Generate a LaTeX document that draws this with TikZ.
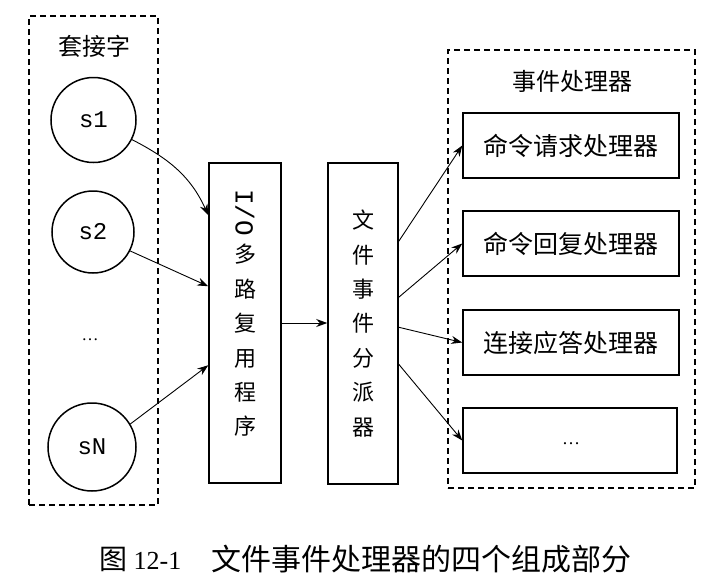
\documentclass[tikz,border=0pt]{standalone}
\usepackage{fontspec}
\setmainfont{Liberation Serif}
\setmonofont{Liberation Mono}
\newfontfamily\cjk{Noto Sans CJK SC}
\usetikzlibrary{arrows.meta,calc}
\begin{document}
\begin{tikzpicture}[x=1pt,y=-1pt,
  dbox/.style={draw, line width=1.6pt, dash pattern=on 6pt off 4pt, inner sep=0pt},
  sbox/.style={draw, line width=1.5pt, inner sep=0pt},
  sock/.style={circle, draw, line width=1.5pt, inner sep=0pt, font=\fontsize{24}{24}\selectfont\ttfamily},
  arr/.style={-{Stealth[length=11pt,width=8pt]}, line width=0.9pt},
  lab/.style={font=\fontsize{24}{24}\selectfont\cjk, inner sep=0pt},
  hbox/.style={sbox, minimum width=216pt, minimum height=65pt, font=\fontsize{25}{25}\selectfont\cjk},
  vtext/.style={font=\fontsize{22}{34.4}\selectfont\cjk, align=center, inner sep=0pt},
]
\useasboundingbox (0,0) rectangle (723,581);

% left group: sockets
\node[dbox, minimum width=129pt, minimum height=489pt] (sockets) at (93.5,260.5) {};
\node[lab] (socklab) at (94,46) {套接字};
\node[sock, minimum size=85pt] (s1) at (93.5,120) {s1};
\node[sock, minimum size=82pt] (s2) at (93,232) {s2};
\node[font=\fontsize{17}{17}\selectfont, inner sep=0pt] (sdots) at (90,340) {…};
\node[sock, minimum size=88pt] (sN) at (92,447) {sN};

% I/O multiplexer
\node[sbox, minimum width=72pt, minimum height=320pt] (io) at (245,323) {};
\node[font=\fontsize{26}{26}\selectfont\ttfamily, rotate=-90, inner sep=0pt] (iolab) at (245,212.5) {I/O};
\node[vtext] (iochars) at (245,340.5) {多\\路\\复\\用\\程\\序};

% dispatcher
\node[sbox, minimum width=70pt, minimum height=321pt, vtext] (disp) at (363,323.5) {文\\件\\事\\件\\分\\派\\器};

% handlers
\node[dbox, minimum width=247pt, minimum height=438pt] (handlers) at (571.5,269) {};
\node[lab] (hlab) at (572,81) {事件处理器};
\node[hbox] (h1) at (571,145.5) {命令请求处理器};
\node[hbox] (h2) at (571,243.5) {命令回复处理器};
\node[hbox] (h3) at (571,342.5) {连接应答处理器};
\node[hbox, minimum width=214pt] (h4) at (570,440.5) {};
\node[font=\fontsize{18}{18}\selectfont, inner sep=0pt] (hdots) at (571,444) {…};

% connectors
\draw[arr] (s1.-27) .. controls +(35,18) and +(-18,-40) .. ([yshift=-53pt]io.north west);
\draw[arr] (s2.-27) -- ([yshift=-124pt]io.north west);
\draw[arr] (sN.31) -- ([yshift=-203pt]io.north west);
\draw[arr] (io.east) -- (io.east -| disp.west);
\draw[arr] ([yshift=-79pt]disp.north east) -- (h1.west);
\draw[arr] ([yshift=-135pt]disp.north east) -- (h2.west);
\draw[arr] ([yshift=-165pt]disp.north east) -- (h3.west);
\draw[arr] ([yshift=-202pt]disp.north east) -- (h4.west);

% caption
\node[anchor=west, inner sep=0pt, font=\fontsize{26}{26}\selectfont] (capl) at (99,559) {{\fontsize{28}{28}\selectfont\cjk 图} 12-1};
\node[anchor=west, inner sep=0pt, font=\fontsize{30}{30}\selectfont\cjk] (capr) at (211,559) {文件事件处理器的四个组成部分};
\end{tikzpicture}
\end{document}
